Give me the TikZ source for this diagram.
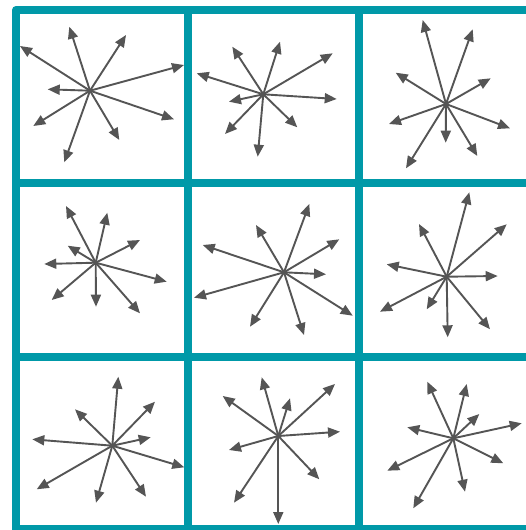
\documentclass[tikz,border=0pt]{standalone}
\usetikzlibrary{arrows.meta}
\definecolor{gridteal}{RGB}{0,153,168}
\definecolor{arrowgray}{RGB}{85,85,85}
\newcommand\spokestar[3]{%
  \coordinate (#1) at (#2);
  \foreach \tx/\ty [count=\i] in {#3} {%
    \coordinate (#1t\i) at (\tx,\ty);
    \draw[spoke] (#1) -- (#1t\i);
  }%
}
\begin{document}
\begin{tikzpicture}[x=1pt,y=-1pt,
  spoke/.style={draw=arrowgray, line width=1.9pt, -{Triangle[length=12pt,width=10pt]}},
  gridline/.style={draw=gridteal, line width=8pt}]
\useasboundingbox (0,0) rectangle (525,530);
\fill[white] (0,0) rectangle (525,530);
% grid
\draw[gridline, line join=round] (540,10) -- (16,10) -- (16,540);
\draw[gridline] (187.5,10) -- (187.5,540);
\draw[gridline] (359,10) -- (359,540);
\draw[gridline] (16,182.5) -- (540,182.5);
\draw[gridline] (16,357) -- (540,357);
\draw[gridline] (16,529) -- (540,529);
% stars
\spokestar{a}{90,90.7}{69.3/26.7, 126/35, 20/46, 184/65, 47.7/89.3, 33.3/126, 174/119.3, 119.3/140, 64.3/162.3}
\spokestar{b}{263.3,94.3}{232.3/46.7, 280/41.7, 332.7/53.3, 196.7/73.3, 229/101.7, 336.7/99, 225/134, 297.3/127.3, 257.7/156.7}
\spokestar{c}{446,104}{422.7/20, 472.7/29.3, 395.7/72.7, 490.7/78.3, 389/124, 510/128.3, 445.7/142.7, 477.3/156, 406/168.3}
\spokestar{d}{95.7,262.7}{66/206, 107.3/212.7, 67.7/245.7, 140/240, 44.3/264, 166.7/281.7, 51.7/300, 96/306.7, 140/313.3}
\spokestar{e}{284,272.3}{309.3/204, 256/225, 202.7/245, 339.3/239.3, 326/274.3, 194/297.7, 352.7/315.7, 250/326.7, 304/335}
\spokestar{f}{446.7,276.7}{469.3/192.3, 419/224, 506.7/224.3, 386.7/264.3, 497.7/276, 380/311.7, 426.7/309.3, 447.7/337.3, 490/329.3}
\spokestar{g}{112.3,445.7}{118.3/376.7, 75/409.3, 155/401.7, 32.3/439.3, 150.7/437.3, 184.3/467.3, 36.7/489.3, 96/502.7, 146/496.7}
\spokestar{h}{278.3,436}{261.7/377.3, 222.7/396, 290/398.3, 335/384, 340/431.7, 229/450, 319.3/479.3, 234/502.7, 278.3/524}
\spokestar{k}{453.3,438.3}{427.3/381.7, 466.7/384, 479.3/414, 407.3/427.3, 521.7/423.3, 503.3/463.3, 387.3/470.7, 465/491.7, 413.3/508.3}
\end{tikzpicture}
\end{document}
